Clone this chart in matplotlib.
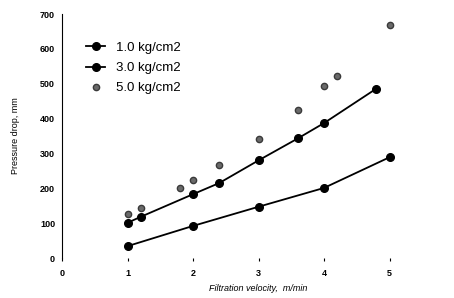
import matplotlib.pyplot as plt

plt.rcParams['font.family'] = ['Liberation Sans', 'DejaVu Sans']

# data
v_10 = [1.0, 2.0, 3.0, 4.0, 5.0]
dp_10 = [34, 92, 147, 201, 289]

v_30 = [1.0, 1.2, 2.0, 2.4, 3.0, 3.6, 4.0, 4.8]
dp_30 = [101, 118, 183, 215, 280, 343, 387, 486]

v_50 = [1.0, 1.2, 1.8, 2.0, 2.4, 3.0, 3.6, 4.0, 4.2, 5.0]
dp_50 = [126, 143, 201, 225, 266, 341, 425, 493, 522, 669]

labels = ["1.0 kg/cm2", "3.0 kg/cm2", "5.0 kg/cm2"]
xticks = [0, 1, 2, 3, 4, 5]
yticks = [0, 100, 200, 300, 400, 500, 600, 700]


def main():
    fig = plt.figure(figsize=(4.54, 2.98), dpi=100)
    ax = fig.add_axes([62 / 454, 40 / 298, 392 / 454, 244 / 298])

    ax.plot(v_10, dp_10, "-o", color="black", lw=1.3, ms=5.5, label=labels[0])
    ax.plot(v_30, dp_30, "-o", color="black", lw=1.3, ms=5.5, label=labels[1])
    ax.plot(v_50, dp_50, "o", color="#6a6a6a", mec="#3a3a3a", ms=4.5, label=labels[2])

    ax.set_xlim(0, 392 / 65.5)
    ax.set_ylim(0, 700 * 244 / 245)
    ax.set_xticks(xticks)
    ax.set_yticks(yticks)
    ax.tick_params(labelsize=6.5, length=2, width=0.8, pad=6)
    ax.tick_params(axis="y", length=0, pad=5)
    for t in ax.get_xticklabels() + ax.get_yticklabels():
        t.set_fontweight("bold")

    for s in ["top", "right", "bottom"]:
        ax.spines[s].set_visible(False)
    ax.spines["left"].set_linewidth(0.8)
    ax.spines["left"].set_linestyle((0, (6, 1)))

    ax.set_xlabel("Filtration velocity,  m/min", fontsize=6.5, style="italic", labelpad=4)
    ax.set_ylabel("Pressure drop, mm", fontsize=6.5, labelpad=14)

    ax.legend(loc="upper left", bbox_to_anchor=(0.03, 0.935), frameon=False,
              fontsize=9.5, handlelength=1.5, handletextpad=0.8, labelspacing=0.6)

    fig.savefig("out.png", dpi=100)


if __name__ == '__main__':
    main()
